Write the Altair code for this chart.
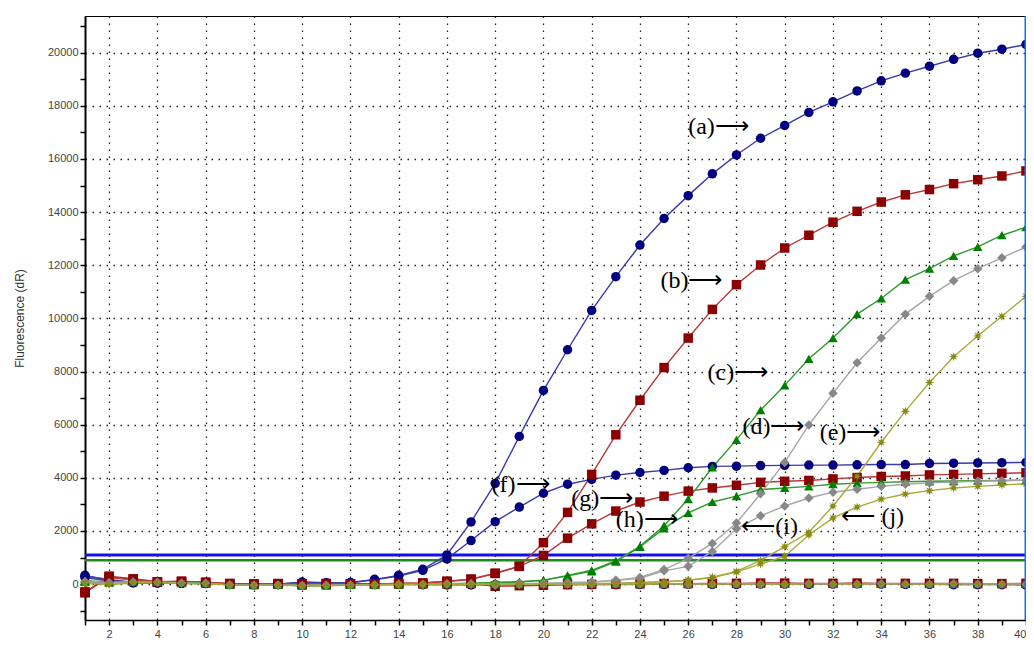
import math
import altair as alt
import pandas as pd

cycles = list(range(1, 41))

# Amplification curves (Fluorescence dR per cycle)
curve_a = [330, 150, 60, 60, 40, 30, 10, -10, 0, 80, 50, 60, 180, 330, 560, 1100, 2340, 3790, 5560, 7290,
           8820, 10300, 11570, 12760, 13760, 14620, 15440, 16150, 16780, 17260, 17750, 18150, 18560, 18940,
           19230, 19490, 19750, 19980, 20130, 20310]
curve_f = [300, 180, 60, 50, 40, 30, 0, -20, 0, 60, 40, 50, 160, 300, 520, 950, 1640, 2350, 2900, 3420,
           3760, 3940, 4100, 4200, 4280, 4380, 4430, 4440, 4460, 4470, 4480, 4480, 4490, 4500, 4500, 4540,
           4550, 4560, 4570, 4580]
curve_b = [-330, 300, 200, 90, 110, 70, 20, 0, 20, 10, 20, 10, 10, 30, 40, 110, 190, 410, 670, 1560,
           2700, 4130, 5620, 6920, 8150, 9260, 10340, 11270, 12010, 12650, 13130, 13620, 14030, 14380,
           14650, 14850, 15070, 15220, 15360, 15550]
curve_g = [-300, 280, 190, 80, 100, 60, 20, 0, 20, 10, 20, 10, 10, 30, 40, 100, 180, 400, 670, 1080,
           1730, 2270, 2750, 3090, 3310, 3500, 3620, 3720, 3830, 3870, 3900, 3960, 4010, 4050, 4070,
           4110, 4130, 4150, 4170, 4190]
curve_c = [120, 80, 100, 80, 60, 40, -30, -40, -20, -60, -50, -30, -20, 0, 10, 20, 30, 60, 90, 150,
           330, 520, 880, 1420, 2200, 3200, 4390, 5430, 6550, 7480, 8480, 9260, 10160, 10750, 11460,
           11870, 12350, 12690, 13130, 13430]
curve_h = [110, 70, 90, 80, 60, 40, -30, -40, -20, -60, -50, -30, -20, 0, 10, 20, 30, 50, 80, 140,
           310, 480, 850, 1400, 2100, 2680, 3090, 3310, 3560, 3620, 3680, 3760, 3800, 3830, 3850, 3870,
           3880, 3890, 3900, 3910]
curve_d = [100, 60, 80, 70, 40, 30, -20, -40, -30, -50, -40, -30, -20, 0, 0, 10, 10, -20, 20, 30,
           50, 80, 150, 250, 550, 970, 1530, 2300, 3400, 4580, 5990, 7180, 8330, 9260, 10160, 10830,
           11420, 11870, 12280, 12690]
curve_i = [90, 60, 80, 60, 40, 30, -20, -40, -30, -50, -40, -30, -20, 0, 0, 10, 10, -20, 20, 30,
           50, 70, 140, 220, 500, 670, 1230, 2080, 2570, 2940, 3240, 3460, 3570, 3680, 3760, 3810,
           3840, 3870, 3890, 3910]
curve_e = [40, 0, 60, 60, 30, 20, -30, -40, -40, -50, -50, -40, -30, -20, -10, 0, -10, 0, 0, 10,
           10, 20, 30, 60, 90, 150, 260, 480, 890, 1410, 1950, 2940, 4060, 5340, 6510, 7590, 8560,
           9340, 10080, 10830]
curve_j = [40, 0, 50, 60, 30, 20, -30, -40, -40, -50, -50, -40, -30, -20, -10, 0, -10, 0, 0, 10,
           10, 20, 30, 50, 80, 140, 250, 450, 760, 1040, 1850, 2490, 2900, 3200, 3390, 3520, 3620,
           3680, 3730, 3780]

# Flat (non-amplifying) traces
flat_blue = [250, 120, 50, 40, 30, 20, 0, -20, -10, 40, 30, 10, 0, -10, -20, -30, -30, -20, -20, -30,
             -20, -20, -20, -10, -10, 0, -10, -10, 0, 0, -10, 0, 10, 0, -10, -10, -20, -20, -20, -30]
flat_red = [-300, 250, 150, 80, 90, 60, 20, 0, 10, 0, 10, 0, -10, 0, 10, 10, 20, -80, -60, -40,
            -20, -10, 0, 10, 20, 20, 30, 30, 40, 40, 30, 30, 40, 30, 30, 30, 30, 20, 20, 30]
flat_green = [80, 60, 70, 50, 40, 30, -20, -30, -20, -40, -40, -30, -20, -10, 0, 0, 10, 0, 0, 10,
              10, 20, 10, 20, 10, 10, 20, 10, 10, 20, 10, 10, 20, 10, 20, 10, 10, 20, 10, 10]
flat_gray = [60, 40, 60, 50, 30, 20, -30, -40, -30, -40, -30, -20, -20, -10, -10, 0, 0, -10, -10, 0,
             0, 0, 10, 0, 10, 0, 0, 10, 0, 0, 10, 0, 0, 10, 0, 0, 10, 0, 0, 0]
flat_olive = [20, -10, 30, 40, 20, 10, -20, -30, -30, -40, -40, -30, -30, -20, -20, -10, -10, -10, 0, 0,
              0, 0, 10, 0, 10, 10, 0, 10, 10, 0, 10, 10, 0, 10, 10, 0, 10, 10, 10, 10]

thresholds = [1100, 900]
threshold_groups = ["blue", "green"]

ann_text = ["(a)\u27f6", "(b)\u27f6", "(c)\u27f6", "(d)\u27f6", "(e)\u27f6",
            "(f)\u27f6", "(g)\u27f6", "(h)\u27f6", "\u27f5(i)", "\u27f5 (j)"]
ann_x = [26.0, 24.85, 26.8, 28.25, 31.45, 17.85, 21.15, 23.0, 28.2, 32.35]
ann_y = [17220, 11420, 7960, 5915, 5690, 3720, 3200, 2420, 2160, 2530]

groups = ["blue", "red", "green", "gray", "olive"]
line_colors = ["#3a3aa8", "#b83838", "#2f9a2f", "#a6a6a6", "#aaaa38"]
fill_colors = ["#000080", "#8b0000", "#008000", "#888888", "#8a8a14"]

pts = []
for k in range(16):
    r = 1.0 if k % 2 == 0 else 0.42
    ang = k * math.pi / 8 - math.pi / 2
    pts.append(f"{r*math.cos(ang):.3f},{r*math.sin(ang):.3f}")
star_path = "M" + "L".join(pts) + "Z"
shapes = ["circle", "square", "triangle-up", "diamond", star_path]

flat_series = [("blue0", "blue", flat_blue), ("red0", "red", flat_red), ("green0", "green", flat_green),
               ("gray0", "gray", flat_gray), ("olive0", "olive", flat_olive)]
main_series = [("f", "blue", curve_f), ("g", "red", curve_g), ("h", "green", curve_h),
               ("i", "gray", curve_i), ("j", "olive", curve_j),
               ("a", "blue", curve_a), ("b", "red", curve_b), ("c", "green", curve_c),
               ("d", "gray", curve_d), ("e", "olive", curve_e)]

def to_df(series_list):
    rows = []
    for name, grp, vals in series_list:
        for c, v in zip(cycles, vals):
            rows.append({"cycle": c, "value": v, "series": name, "group": grp})
    return pd.DataFrame(rows)

df_flat = to_df(flat_series)
df_main = to_df(main_series)

x_scale = alt.Scale(domain=[1, 40], nice=False, zero=False)
y_scale = alt.Scale(domain=[-1350, 21380], nice=False, zero=False)

x_axis = alt.Axis(
    values=cycles, title=None, format="d",
    labelExpr="datum.value % 2 === 0 ? datum.label : ''",
    grid=True, gridColor="#222", gridDash=[1.5, 5.5], gridWidth=1.3,
    gridOpacity={"condition": {"test": "datum.value % 2 === 0", "value": 1}, "value": 0},
    tickSize=5, tickColor="black", tickWidth=1.5,
    domainColor="black", domainWidth=1.5,
    labelFont="Liberation Sans", labelFontSize=11, labelColor="#444", labelPadding=3,
    labelFlush=True,
)
y_axis = alt.Axis(
    values=list(range(-1000, 21001, 1000)), title="Fluorescence (dR)", format="d",
    labelExpr="datum.value % 2000 === 0 ? datum.label : ''",
    grid=True, gridColor="#222", gridDash=[1.5, 5.5], gridWidth=1.3,
    gridOpacity={"condition": {"test": "datum.value % 2000 === 0", "value": 1}, "value": 0},
    tickSize=5, tickColor="black", tickWidth=1.5,
    domainColor="black", domainWidth=2,
    labelFont="Liberation Sans", labelFontSize=11, labelColor="#444", labelPadding=2,
    titleFont="Liberation Sans", titleFontSize=12, titleFontWeight="normal", titleColor="#333",
    titlePadding=21,
)

X = alt.X("cycle:Q", scale=x_scale, axis=x_axis)
Y = alt.Y("value:Q", scale=y_scale, axis=y_axis)
stroke_enc = alt.Stroke("group:N", scale=alt.Scale(domain=groups, range=line_colors), legend=None)
fill_enc = alt.Fill("group:N", scale=alt.Scale(domain=groups, range=fill_colors), legend=None)
shape_enc = alt.Shape("group:N", scale=alt.Scale(domain=groups, range=shapes), legend=None)

def curve_layers(df):
    base = alt.Chart(df)
    lines = base.mark_line(strokeWidth=1.4).encode(x=X, y=Y, stroke=stroke_enc, detail="series:N")
    points = base.mark_point(filled=True, size=90, opacity=1, strokeWidth=0).encode(
        x=X, y=Y, fill=fill_enc, shape=shape_enc, detail="series:N")
    return [lines, points]

df_thr = pd.DataFrame({"value": thresholds, "group": threshold_groups})
thr = alt.Chart(df_thr).mark_rule().encode(
    y=alt.Y("value:Q", scale=y_scale, axis=y_axis),
    color=alt.Color("group:N", scale=alt.Scale(domain=["blue", "green"], range=["#1010ee", "#1f8a1f"]), legend=None),
    strokeWidth=alt.StrokeWidth("group:N", scale=alt.Scale(domain=["blue", "green"], range=[3, 2.5]), legend=None),
)

df_vline = pd.DataFrame({"cycle": [40]})
vline = alt.Chart(df_vline).mark_rule(color="#1a6cff", strokeWidth=3).encode(
    x=alt.X("cycle:Q", scale=x_scale, axis=x_axis))

df_ann = pd.DataFrame({"cycle": ann_x, "value": ann_y, "label": ann_text})
ann = alt.Chart(df_ann).mark_text(
    font="Liberation Serif", fontSize=24, color="black", align="left", baseline="middle"
).encode(x=X, y=Y, text="label:N")

layers = curve_layers(df_flat) + [thr] + curve_layers(df_main) + [vline, ann]

chart = alt.layer(*layers).resolve_scale(
    color="independent", stroke="independent", fill="independent", shape="independent"
).properties(
    width=941, height=604,
    autosize=alt.AutoSizeParams(type="none"),
    padding={"left": 77, "top": 8, "right": 0, "bottom": 18},
    background="white",
).configure_view(stroke="black", strokeWidth=1)

chart.save("out.html", embed_options={"renderer": "svg", "actions": False})
